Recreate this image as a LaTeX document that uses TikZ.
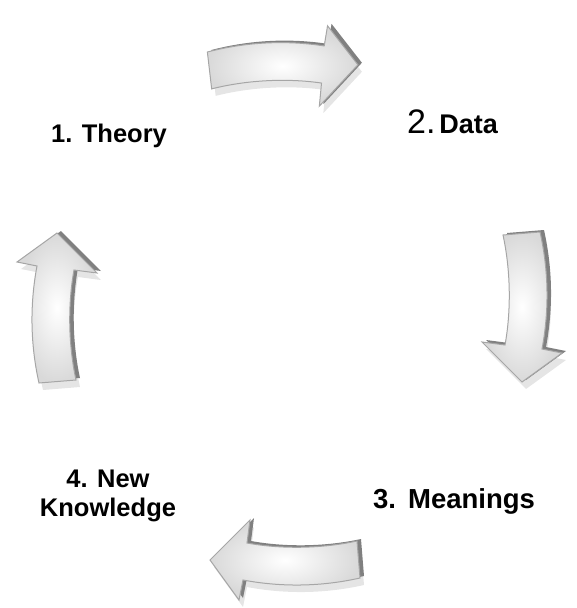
\documentclass[tikz,border=0pt]{standalone}
\usepackage{fontspec}
\setmainfont{Liberation Sans}

% one curved block arrow, tail at the origin, pointing along x
\newcommand{\arrowoutline}{(0,-18) .. controls (40,-27) and (80,-27) .. (117,-20) -- (121,-40) -- (150,0) --
    (110,40) -- (113,17) .. controls (80,11) and (40,11) .. (3,19) -- cycle}
\newcommand{\cyclearrow}[2]{%
    \fill [arrowshadow, shift={(4,7)}, shift={#1}, rotate=#2] \arrowoutline;
    \fill [arrowside, shift={(4,-2)}, shift={#1}, rotate=#2] \arrowoutline;
    \shade [arrowface, shift={#1}, rotate=#2] \arrowoutline;
}

\begin{document}
\begin{tikzpicture}[x=1pt, y=-1pt,
    arrowshadow/.style={fill=black!10},
    arrowside/.style={fill=black!50},
    arrowface/.style={inner color=white, middle color=white, outer color=black!15, draw=black!35, line width=1pt},
    stagelabel/.style={inner sep=0pt, align=center}]
    \useasboundingbox (0,0) rectangle (576,608);

    \cyclearrow{(208,70)}{2}
    \cyclearrow{(522,232)}{-90}
    \cyclearrow{(360,560)}{180}
    \cyclearrow{(57,383)}{90}

    \node [stagelabel, anchor=base west, font=\bfseries\fontsize{25.5}{29}\selectfont] (theory) at (51,142) {1. Theory};
    \node [stagelabel, anchor=base west] (data) at (407,133)
        {{\fontsize{34}{34}\selectfont 2.} {\bfseries\fontsize{27}{30}\selectfont Data}};
    \node [stagelabel, anchor=base west, font=\bfseries\fontsize{27.5}{30}\selectfont] (meanings) at (373,508)
        {3.\hspace{12pt}Meanings};
    \node [stagelabel, anchor=base, font=\bfseries\fontsize{25.5}{29}\selectfont] (knowledge) at (108,516)
        {4. New\\Knowledge};

\end{tikzpicture}
\end{document}
